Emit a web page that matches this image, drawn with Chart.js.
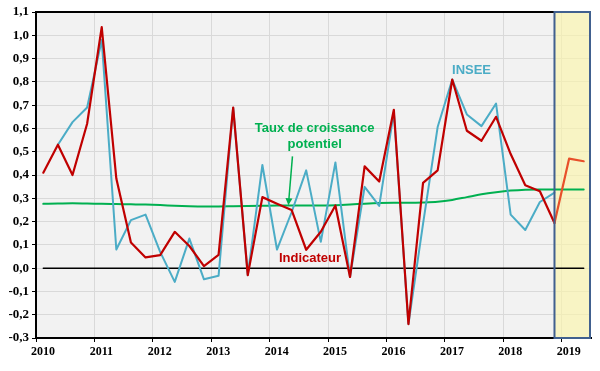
<!DOCTYPE html>
<html>
<head>
<meta charset="utf-8">
<script src="https://cdn.jsdelivr.net/npm/chart.js@4.4.1/dist/chart.umd.min.js"></script>
<style>
  body { margin: 0; background: #fff; }
  #wrap { width: 600px; height: 371px; }
</style>
</head>
<body>
<div id="wrap"><canvas id="myChart" width="600" height="371"></canvas></div>
<script>
// quarters 2010T1 .. 2019T2
var quarters = [
    '2010T1','2010T2','2010T3','2010T4','2011T1','2011T2','2011T3','2011T4',
    '2012T1','2012T2','2012T3','2012T4','2013T1','2013T2','2013T3','2013T4',
    '2014T1','2014T2','2014T3','2014T4','2015T1','2015T2','2015T3','2015T4',
    '2016T1','2016T2','2016T3','2016T4','2017T1','2017T2','2017T3','2017T4',
    '2018T1','2018T2','2018T3','2018T4','2019T1','2019T2'
];
var yearTicks = [2010, 2011, 2012, 2013, 2014, 2015, 2016, 2017, 2018, 2019];

var indicateur = [
    0.41, 0.53, 0.40, 0.62,   1.035, 0.385, 0.11, 0.046,
    0.056, 0.156, 0.095, 0.009,   0.057, 0.689, -0.03, 0.305,
    0.277, 0.25, 0.079, 0.156,   0.269, -0.038, 0.437, 0.372,
    0.68, -0.24, 0.366, 0.42,   0.81, 0.59, 0.547, 0.65,
    0.49, 0.356, 0.33, 0.194,   null, null
];
var prevision = [
    null, null, null, null, null, null, null, null,
    null, null, null, null, null, null, null, null,
    null, null, null, null, null, null, null, null,
    null, null, null, null, null, null, null, null,
    null, null, null, 0.194,   0.47, 0.459
];
var insee = [
    null, 0.53, 0.627, 0.69,   0.98, 0.08, 0.206, 0.23,
    0.07, -0.059, 0.127, -0.048,   -0.033, 0.689, -0.03, 0.443,
    0.08, 0.24, 0.42, 0.113,   0.454, -0.038, 0.349, 0.267,
    0.67, -0.24, 0.19, 0.606,   0.81, 0.66, 0.61, 0.707,
    0.23, 0.164, 0.284, 0.324,   null, null
];
var potentiel = [
    0.276, 0.278, 0.279, 0.278,   0.276, 0.275, 0.274, 0.273,
    0.271, 0.268, 0.266, 0.265,   0.265, 0.266, 0.267, 0.268,
    0.269, 0.269, 0.269, 0.269,   0.270, 0.273, 0.277, 0.280,
    0.281, 0.281, 0.282, 0.285,   0.293, 0.305, 0.317, 0.326,
    0.333, 0.337, 0.338, 0.338,   0.338, 0.338
];

// quarter label -> position in years (middle of the quarter)
function qx(q) {
    return parseInt(q.slice(0, 4)) + (parseInt(q.slice(5)) - 0.5) / 4;
}
function pts(arr) {
    return quarters.map(function (q, i) { return { x: qx(q), y: arr[i] }; });
}

var boxPlugin = {
    id: 'boxPlugin',
    beforeDatasetsDraw: function (chart) {
        var c = chart.ctx, xs = chart.scales.x, a = chart.chartArea;
        var x0 = xs.getPixelForValue(qx('2018T4'));
        c.save();
        c.fillStyle = 'rgba(250, 245, 170, 0.65)';
        c.fillRect(x0, a.top, a.right - x0, a.bottom - a.top);
        c.restore();
    },
    afterDatasetsDraw: function (chart) {
        var c = chart.ctx, xs = chart.scales.x, ys = chart.scales.y, a = chart.chartArea;
        var x0 = xs.getPixelForValue(qx('2018T4'));
        c.save();
        // top border of the plot
        c.strokeStyle = '#000';
        c.lineWidth = 2;
        c.beginPath();
        c.moveTo(a.left, a.top);
        c.lineTo(x0, a.top);
        c.stroke();
        // forecast box
        c.strokeStyle = '#41608f';
        c.lineWidth = 2;
        c.strokeRect(x0, a.top, a.right - x0 - 1, a.bottom - a.top);

        // annotations
        c.font = 'bold 13px "Liberation Sans", Arial, sans-serif';
        c.textAlign = 'center';
        c.textBaseline = 'middle';
        c.fillStyle = '#4bacc6';
        c.fillText('INSEE', xs.getPixelForValue(2017.455), ys.getPixelForValue(0.849));
        c.fillStyle = '#00b050';
        c.fillText('Taux de croissance', xs.getPixelForValue(2014.77), ys.getPixelForValue(0.599));
        c.fillText('potentiel', xs.getPixelForValue(2014.77), ys.getPixelForValue(0.531));
        c.fillStyle = '#c00000';
        c.fillText('Indicateur', xs.getPixelForValue(2014.69), ys.getPixelForValue(0.042));

        // green arrow
        var ax0 = xs.getPixelForValue(2014.39), ay0 = ys.getPixelForValue(0.48);
        var ax1 = xs.getPixelForValue(2014.32), ay1 = ys.getPixelForValue(0.27);
        var ang = Math.atan2(ay1 - ay0, ax1 - ax0);
        c.strokeStyle = '#00b050';
        c.fillStyle = '#00b050';
        c.lineWidth = 1.5;
        c.beginPath();
        c.moveTo(ax0, ay0);
        c.lineTo(ax1 - 6 * Math.cos(ang), ay1 - 6 * Math.sin(ang));
        c.stroke();
        c.beginPath();
        c.moveTo(ax1, ay1);
        c.lineTo(ax1 - 7 * Math.cos(ang) + 3.5 * Math.sin(ang), ay1 - 7 * Math.sin(ang) - 3.5 * Math.cos(ang));
        c.lineTo(ax1 - 7 * Math.cos(ang) - 3.5 * Math.sin(ang), ay1 - 7 * Math.sin(ang) + 3.5 * Math.cos(ang));
        c.closePath();
        c.fill();
        c.restore();
    }
};

var bgPlugin = {
    id: 'bgPlugin',
    beforeDraw: function (chart) {
        var c = chart.ctx, a = chart.chartArea;
        c.save();
        c.fillStyle = '#f2f2f2';
        c.fillRect(a.left, a.top, a.right - a.left, a.bottom - a.top);
        c.restore();
    }
};

var ctx = document.getElementById('myChart');
var myChart = new Chart(ctx, {
    type: 'line',
    data: {
        datasets: [
            {
                label: 'Zero',
                data: pts(quarters.map(function () { return 0; })),
                borderColor: '#000',
                borderWidth: 1.5,
                order: 4
            },
            {
                label: 'Taux de croissance potentiel',
                data: pts(potentiel),
                borderColor: '#00b050',
                borderWidth: 2,
                cubicInterpolationMode: 'monotone',
                order: 3
            },
            {
                label: 'INSEE',
                data: pts(insee),
                borderColor: '#4bacc6',
                borderWidth: 2,
                order: 2
            },
            {
                label: 'Indicateur',
                data: pts(indicateur),
                borderColor: '#c00000',
                borderWidth: 2.2,
                order: 1
            },
            {
                label: 'Prévision',
                data: pts(prevision),
                borderColor: '#e8502a',
                borderWidth: 2.2,
                order: 0
            }
        ]
    },
    plugins: [bgPlugin, boxPlugin],
    options: {
        responsive: false,
        animation: false,
        elements: {
            point: { radius: 0 },
            line: { tension: 0, fill: false, borderJoinStyle: 'round', borderCapStyle: 'round' }
        },
        layout: {
            padding: { top: 12, right: 9, left: 0, bottom: 0 }
        },
        plugins: {
            legend: { display: false },
            tooltip: { enabled: false }
        },
        scales: {
            x: {
                type: 'linear',
                min: 2010,
                max: 2019.5,
                afterBuildTicks: function (scale) {
                    scale.ticks = yearTicks.map(function (v) { return { value: v }; });
                },
                afterFit: function (scale) { scale.height = 33; },
                grid: {
                    color: '#d9d9d9',
                    tickColor: '#000',
                    tickLength: 4
                },
                border: { color: '#000', width: 2 },
                ticks: {
                    autoSkip: false,
                    maxRotation: 0,
                    padding: 3,
                    labelOffset: 7,
                    color: '#000',
                    font: { family: '"Liberation Serif", "Times New Roman", serif', size: 12, weight: 'bold' },
                    callback: function (v) { return String(v); }
                }
            },
            y: {
                min: -0.3,
                max: 1.1,
                afterFit: function (scale) { scale.width = 36; },
                grid: {
                    color: '#d9d9d9',
                    tickColor: '#000',
                    tickLength: 4
                },
                border: { color: '#000', width: 2 },
                ticks: {
                    stepSize: 0.1,
                    padding: 3,
                    color: '#000',
                    font: { family: '"Liberation Serif", "Times New Roman", serif', size: 13, weight: 'bold' },
                    callback: function (v) { return v.toFixed(1).replace('.', ','); }
                }
            }
        }
    }
});
</script>
</body>
</html>
